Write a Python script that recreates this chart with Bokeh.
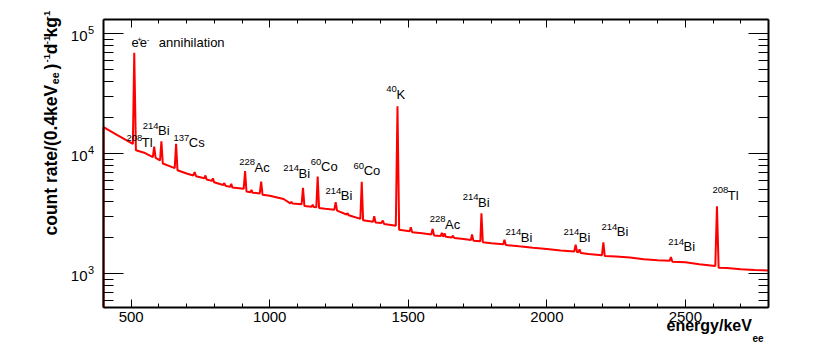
import math
from bokeh.plotting import figure
from bokeh.models import (Range1d, LinearAxis, LogAxis, SingleIntervalTicker,
                          LogTicker, Label, CustomJSTickFormatter)
from bokeh.embed import file_html
from bokeh.resources import INLINE

# ---------------- data ----------------
energy_kev = [400, 450, 506, 511, 517, 550, 578, 583, 588, 604, 609, 614,
              657, 662, 667, 700, 724, 729, 734, 764, 768, 772, 791, 795, 799,
              832, 836, 840, 857, 861, 865, 906, 911, 916, 930, 934, 938,
              964, 969, 974, 1000, 1050, 1074, 1078, 1082, 1115, 1120, 1125,
              1151, 1155, 1159, 1168, 1173, 1178, 1200, 1233, 1238, 1243,
              1277, 1281, 1285, 1300, 1327, 1332, 1337, 1373, 1377, 1382,
              1403, 1408, 1413, 1455, 1461, 1467, 1505, 1509, 1514, 1550,
              1583, 1588, 1593, 1617, 1621, 1625, 1627, 1631, 1635, 1657,
              1661, 1666, 1700, 1726, 1730, 1735, 1760, 1764, 1769, 1800,
              1843, 1847, 1852, 1900, 1950, 2000, 2050, 2099, 2104, 2109,
              2114, 2118, 2123, 2150, 2199, 2204, 2209, 2250, 2300, 2350,
              2400, 2443, 2448, 2453, 2500, 2550, 2608, 2614, 2620, 2650,
              2700, 2750, 2800]
count_rate = [16700, 14300, 12100, 69500, 10700, 10150, 9400, 11500, 9250,
              8800, 12700, 8300, 7600, 12100, 7300, 6850, 6600, 7050, 6500,
              6250, 6600, 6100, 5950, 6250, 5800, 5500, 5700, 5420, 5300,
              5620, 5250, 5120, 7170, 4850, 4780, 5010, 4740, 4680, 5870,
              4550, 4480, 4200, 3870, 3990, 3850, 3800, 5200, 3680, 3620,
              3760, 3600, 3580, 6450, 3540, 3480, 3420, 3950, 3360, 3120,
              3200, 3080, 3000, 2870, 5850, 2790, 2720, 3020, 2680, 2650,
              2780, 2600, 2510, 24900, 2330, 2260, 2440, 2220, 2175, 2130,
              2370, 2090, 2065, 2200, 2060, 2055, 2170, 2040, 2010, 2080,
              1990, 1950, 1910, 2130, 1890, 1870, 3200, 1830, 1800, 1760,
              1920, 1740, 1695, 1650, 1612, 1565, 1535, 1746, 1520, 1515,
              1595, 1490, 1460, 1430, 1825, 1410, 1395, 1365, 1325, 1300,
              1283, 1378, 1262, 1250, 1200, 1160, 3660, 1125, 1118, 1092,
              1078, 1066]

x_range_kev = (400, 2800)
y_range_rate = (524, 131600)
x_tick_interval = 500
y_tick_values = [1e3, 1e4, 1e5]

peak_sup = ["208", "214", "137", "228", "214", "60", "214", "60", "40",
            "228", "214", "214", "214", "214", "214", "208"]
peak_name = ["Tl", "Bi", "Cs", "Ac", "Bi", "Co", "Bi", "Co", "K",
             "Ac", "Bi", "Bi", "Bi", "Bi", "Bi", "Tl"]
peak_label_energy = [483, 541.8, 652.6, 889.8, 1048.5, 1148.2, 1201.2,
                     1302.3, 1420.3, 1577.6, 1696.7, 1850.8, 2060.2, 2197.3,
                     2438.0, 2597.9]
peak_label_rate = [11140, 14020, 11140, 6945, 6190, 7025, 4027, 6507, 28180,
                   2340, 3548, 1823, 1823, 2018, 1514, 4082]

annih_energy = 501.1
annih_rate = 76420

# ---------------- layout ----------------
FONT = "Liberation Sans"
W, H = 814, 344
BOX_L, BOX_R, BOX_T, BOX_B = 103, 768, 19, 307   # axes box in canvas px

# the plotting frame fills the canvas; the axes are pinned to the box
kx = (BOX_R - BOX_L) / (x_range_kev[1] - x_range_kev[0])
fig_x = (x_range_kev[0] - BOX_L / kx, x_range_kev[1] + (W - BOX_R) / kx)
ly0, ly1 = math.log10(y_range_rate[0]), math.log10(y_range_rate[1])
ky = (BOX_B - BOX_T) / (ly1 - ly0)
fig_y = (10 ** (ly0 - (H - BOX_B) / ky), 10 ** (ly1 + BOX_T / ky))


def scr(px, py):
    # screen units: x from canvas left, y up from canvas bottom
    return px, H - py


def lift(size):
    # compensate the drop of an 'alphabetic' anchored label
    return 0.42 * size


p = figure(width=W, height=H,
           x_range=Range1d(*fig_x), y_range=Range1d(*fig_y),
           y_axis_type="log", output_backend="svg", toolbar_location=None,
           min_border_left=0, min_border_right=0, min_border_top=0,
           min_border_bottom=0,
           background_fill_color="white", border_fill_color="white")
p.grid.visible = False
p.outline_line_color = None

xs = [x_range_kev[0]] + energy_kev
ys = [y_range_rate[0]] + count_rate
p.line(xs, ys, line_color="#ff0000", line_width=2)

blank = CustomJSTickFormatter(code="return '';")


def style_axis(ax, major_in, minor_in, show_labels, loc, bounds):
    ax.fixed_location = loc
    ax.bounds = bounds
    ax.axis_line_color = "black"
    ax.axis_line_width = 2
    ax.major_tick_in = major_in
    ax.major_tick_out = 0
    ax.minor_tick_in = minor_in
    ax.minor_tick_out = 0
    ax.major_tick_line_color = "black"
    ax.minor_tick_line_color = "black"
    ax.major_tick_line_width = 1
    ax.minor_tick_line_width = 1
    ax.axis_label = None
    ax.major_label_text_font = FONT
    ax.major_label_text_font_size = "15px"
    ax.major_label_text_color = "black"
    if show_labels:
        ax.major_label_standoff = 4
    else:
        ax.formatter = blank
        ax.major_label_standoff = 0


bx = p.xaxis[0]
bx.ticker = SingleIntervalTicker(interval=x_tick_interval, num_minor_ticks=5)
style_axis(bx, 8, 4, True, y_range_rate[0], x_range_kev)

lyax = p.yaxis[0]
lyax.ticker = LogTicker(mantissas=[1], num_minor_ticks=10)
style_axis(lyax, 20, 10, False, x_range_kev[0], y_range_rate)

tx = LinearAxis(ticker=SingleIntervalTicker(interval=x_tick_interval,
                                            num_minor_ticks=5))
style_axis(tx, 8, 4, False, y_range_rate[1], x_range_kev)
p.add_layout(tx, "above")

ry = LogAxis(ticker=LogTicker(mantissas=[1], num_minor_ticks=10))
style_axis(ry, 20, 10, False, x_range_kev[1], y_range_rate)
p.add_layout(ry, "right")


def add_label(**kw):
    p.add_layout(Label(text_font=FONT, text_color="black", **kw))


# y tick labels 10^n
for v in y_tick_values:
    ex = int(round(math.log10(v)))
    add_label(x=scr(87, 0)[0], x_units="screen", y=v, text="10",
              text_font_size="15px", text_align="right",
              text_baseline="middle", y_offset=-2)
    add_label(x=scr(87.5, 0)[0], x_units="screen", y=v, text=str(ex),
              text_font_size="11px", text_align="left",
              text_baseline="alphabetic", y_offset=-1 + lift(11))

# peak labels
for sup, name, e, r in zip(peak_sup, peak_name, peak_label_energy,
                           peak_label_rate):
    add_label(x=e, y=r, text=sup, text_font_size="9.5px",
              text_baseline="alphabetic", y_offset=6.5 + lift(9.5))
    add_label(x=e, y=r, text=name, text_font_size="13px",
              text_baseline="alphabetic", x_offset=len(sup) * 5.1,
              y_offset=lift(13))

# e+e- annihilation
for txt, dx, size, dy in [("e", 0, 13, 0), ("+", 5.8, 8, 5),
                          ("e", 8.3, 13, 0), ("-", 15.2, 8, 5),
                          ("annihilation", 27.3, 13, 0)]:
    add_label(x=annih_energy, y=annih_rate, text=txt,
              text_font_size=f"{size}px", text_baseline="alphabetic",
              x_offset=dx, y_offset=dy + lift(size))

# x title
x0, y0 = scr(666, 331.7)
add_label(x=x0, y=y0, x_units="screen", y_units="screen",
          text="energy/keV", text_font_size="16px", text_font_style="bold",
          text_baseline="alphabetic", y_offset=lift(16))
x0, y0 = scr(752, 341.7)
add_label(x=x0, y=y0, x_units="screen", y_units="screen",
          text="ee", text_font_size="10px", text_font_style="bold",
          text_baseline="alphabetic", y_offset=lift(10))

# y title (rotated pieces)
y_title_pieces = [("count rate/(0.4keV", 57.5, 235, 17.5),
                  ("ee", 58.8, 83.7, 10.5),
                  (")", 57.5, 69, 17.5),
                  ("-1", 50, 62, 9.5),
                  ("d", 57.5, 53.7, 17.5),
                  ("-1", 50, 43.7, 9.5),
                  ("kg", 57.5, 37, 17.5),
                  ("-1", 50, 18.7, 9.5)]
for txt, px, py, size in y_title_pieces:
    x0, y0 = scr(px, py)
    add_label(x=x0, y=y0, x_units="screen", y_units="screen",
              text=txt, text_font_size=f"{size}px", text_font_style="bold",
              text_baseline="alphabetic", angle=math.pi / 2,
              x_offset=-lift(size))

open("out.html", "w").write(file_html(p, INLINE))
